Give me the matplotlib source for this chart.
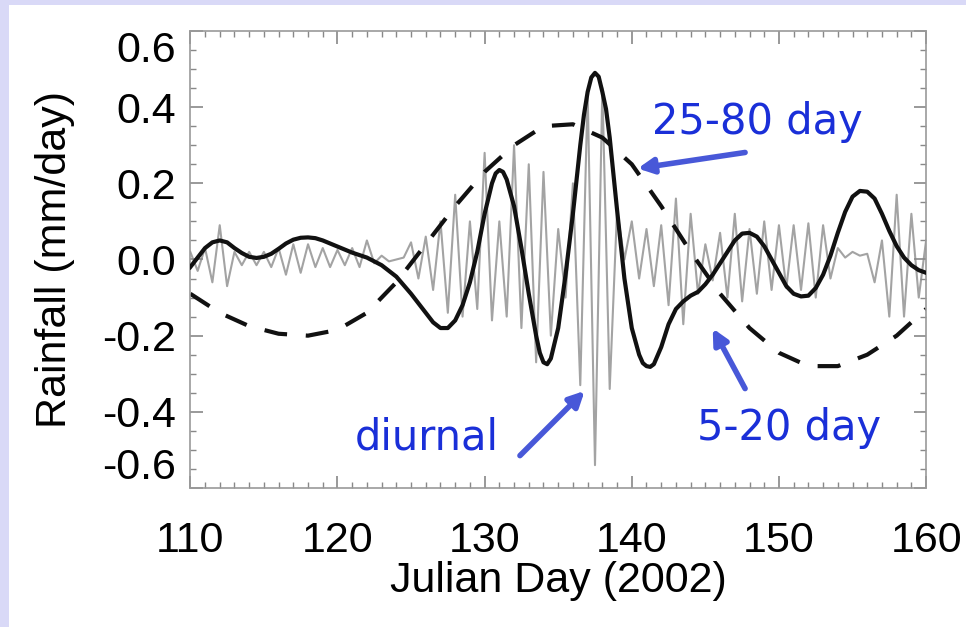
import numpy as np
import matplotlib
matplotlib.use("Agg")
import matplotlib.pyplot as plt
from matplotlib.ticker import MultipleLocator
from matplotlib.patches import Rectangle

# 25-80 day band (dashed)
day_slow = [110, 112, 114, 116, 118, 120, 122, 124, 126, 128, 130, 132, 134,
            136, 138, 140, 142, 144, 146, 148, 150, 152, 154, 156, 158, 160]
rain_slow = [-0.09, -0.14, -0.175, -0.195, -0.2, -0.185, -0.14, -0.06, 0.04, 0.14,
             0.23, 0.30, 0.35, 0.355, 0.32, 0.25, 0.14, 0.02, -0.09, -0.18,
             -0.245, -0.28, -0.28, -0.25, -0.2, -0.13]

# 5-20 day band (thick solid)
day_mid = [110, 110.5, 111, 111.5, 112, 112.5, 113, 113.5, 114, 114.5, 115, 115.5,
           116, 116.5, 117, 117.5, 118, 118.5, 119, 119.5, 120, 121, 122, 123, 124,
           125, 126, 126.5, 127, 127.5, 128, 128.5, 129, 129.5, 130, 130.5, 130.75,
           131, 131.25, 131.5, 132, 132.5, 133, 133.5, 133.75, 134, 134.25, 134.5,
           135, 135.5, 136, 136.5, 136.75, 137, 137.25, 137.5, 137.75, 138, 138.25,
           138.5, 139, 139.5, 140, 140.5, 140.75, 141, 141.25, 141.5, 142, 142.5,
           143, 143.5, 144, 144.5, 145, 145.5, 146, 146.5, 147, 147.5, 148, 148.5,
           149, 149.5, 150, 150.5, 151, 151.5, 152, 152.5, 153, 153.5, 154, 154.5,
           155, 155.5, 156, 156.5, 157, 157.5, 158, 158.5, 159, 159.5, 160]
rain_mid = [-0.02, 0.005, 0.03, 0.045, 0.05, 0.045, 0.03, 0.017, 0.007, 0.004, 0.007,
            0.015, 0.028, 0.042, 0.052, 0.057, 0.058, 0.056, 0.05, 0.042, 0.034,
            0.018, 0.005, -0.015, -0.045, -0.09, -0.14, -0.165, -0.18, -0.18, -0.16,
            -0.12, -0.06, 0.02, 0.12, 0.2, 0.226, 0.235, 0.23, 0.21, 0.14, 0.03,
            -0.09, -0.2, -0.245, -0.27, -0.275, -0.26, -0.18, -0.04, 0.12, 0.3,
            0.38, 0.44, 0.478, 0.49, 0.48, 0.44, 0.395, 0.32, 0.13, -0.05, -0.18,
            -0.25, -0.272, -0.28, -0.282, -0.275, -0.23, -0.17, -0.13, -0.11,
            -0.095, -0.085, -0.065, -0.04, -0.01, 0.02, 0.05, 0.068, 0.07, 0.06,
            0.035, 0.0, -0.035, -0.07, -0.09, -0.097, -0.095, -0.075, -0.04, 0.01,
            0.07, 0.125, 0.165, 0.18, 0.178, 0.16, 0.12, 0.075, 0.035, 0.005,
            -0.015, -0.028, -0.035]

# diurnal band (thin gray), peaks and troughs every half day from day 110
rain_diurnal = [0.02, -0.03, 0.03, -0.06, 0.09, -0.07, 0.02, -0.015, 0.02, -0.015,
                0.02, -0.02, 0.03, -0.04, 0.04, -0.035, 0.04, -0.02, 0.03, -0.02,
                0.025, -0.015, 0.03, -0.02, 0.05, -0.01, 0.01, -0.005, 0.0, 0.005,
                0.045, -0.05, 0.06, -0.08, 0.1, -0.14, 0.17, -0.15, 0.1, -0.13,
                0.28, -0.16, 0.1, -0.15, 0.3, -0.18, 0.25, -0.27, 0.23, -0.2,
                0.08, -0.1, 0.2, -0.33, 0.44, -0.54, 0.45, -0.34, 0.13, 0.0,
                0.1, -0.05, 0.08, -0.07, 0.09, -0.12, 0.16, -0.17, 0.12, -0.09,
                0.04, -0.055, 0.07, -0.1, 0.12, -0.11, 0.08, -0.09, 0.1, -0.08,
                0.09, -0.075, 0.09, -0.08, 0.095, -0.1, 0.09, -0.05, 0.03, 0.005,
                0.02, 0.01, 0.015, -0.06, 0.05, -0.15, 0.17, -0.15, 0.12, -0.1,
                0.05]
day_diurnal = [110 + 0.5 * i for i in range(len(rain_diurnal))]

plt.rcParams['font.family'] = ['Liberation Sans', 'DejaVu Sans']

fig = plt.figure(figsize=(9.66, 6.27), dpi=100)
fig.patch.set_facecolor('#d9d9f7')
# white panel inside the lavender border
panel = Rectangle((9 / 966, 0), 1, 1 - 5 / 627, transform=fig.transFigure,
                  facecolor='white', edgecolor='none', zorder=-10)
fig.add_artist(panel)

ax = fig.add_axes([0.197, 0.2217, 0.7617, 0.7289])
ax.set_facecolor('none')
ax.plot(day_diurnal, rain_diurnal, color='#a3a3a3', lw=1.5, zorder=1,
        solid_joinstyle='round')
ax.plot(day_slow, rain_slow, color='#111111', lw=3, ls=(0, (5.5, 4.5)), zorder=2)
ax.plot(day_mid, rain_mid, color='#111111', lw=3, zorder=3, solid_joinstyle='round')

ax.set_xlim(110, 160)
ax.set_ylim(-0.6, 0.6)
ax.xaxis.set_major_locator(MultipleLocator(10))
ax.xaxis.set_minor_locator(MultipleLocator(1))
ax.yaxis.set_minor_locator(MultipleLocator(0.05))
ax.set_yticks([-0.6, -0.4, -0.2, 0.0, 0.2, 0.4, 0.6])
ax.set_yticklabels(['-0.6', '-0.4', '-0.2', '0.0', '0.2', '0.4', '0.6'])
ax.tick_params(which='both', direction='in', top=True, right=True, color='#888888')
ax.tick_params(which='major', length=9, width=1.2, labelsize=31)
ax.tick_params(which='minor', length=4.5, width=1)
ax.tick_params(axis='x', which='major', pad=24)
ax.tick_params(axis='y', which='major', pad=10)
ylabels = ax.get_yticklabels()
ylabels[0].set_va('bottom')
ylabels[-1].set_va('top')
for s in ax.spines.values():
    s.set_color('#999999')
    s.set_linewidth(1.2)

ax.set_xlabel('Julian Day (2002)', fontsize=31, labelpad=0)
ax.set_ylabel('Rainfall (mm/day)', fontsize=31, labelpad=20)

txt_color = '#1a2fd8'
arr_color = '#4858d8'
arrow = dict(arrowstyle='-|>,head_length=0.9,head_width=0.45', color=arr_color, lw=4,
             shrinkA=0, shrinkB=0)
ax.annotate('', xy=(140.4, 0.239), xytext=(147.7, 0.281), arrowprops=arrow,
            annotation_clip=False)
ax.annotate('', xy=(136.8, -0.345), xytext=(132.4, -0.515), arrowprops=arrow,
            annotation_clip=False)
ax.annotate('', xy=(145.5, -0.181), xytext=(147.7, -0.339), arrowprops=arrow,
            annotation_clip=False)
ax.text(141.4, 0.36, '25-80 day', color=txt_color, fontsize=30, family='DejaVu Sans',
        va='center', ha='left')
ax.text(121.2, -0.468, 'diurnal', color=txt_color, fontsize=30, family='DejaVu Sans',
        va='center', ha='left')
ax.text(144.4, -0.442, '5-20 day', color=txt_color, fontsize=30, family='DejaVu Sans',
        va='center', ha='left')

fig.savefig('out.png', dpi=100, facecolor=fig.get_facecolor())
